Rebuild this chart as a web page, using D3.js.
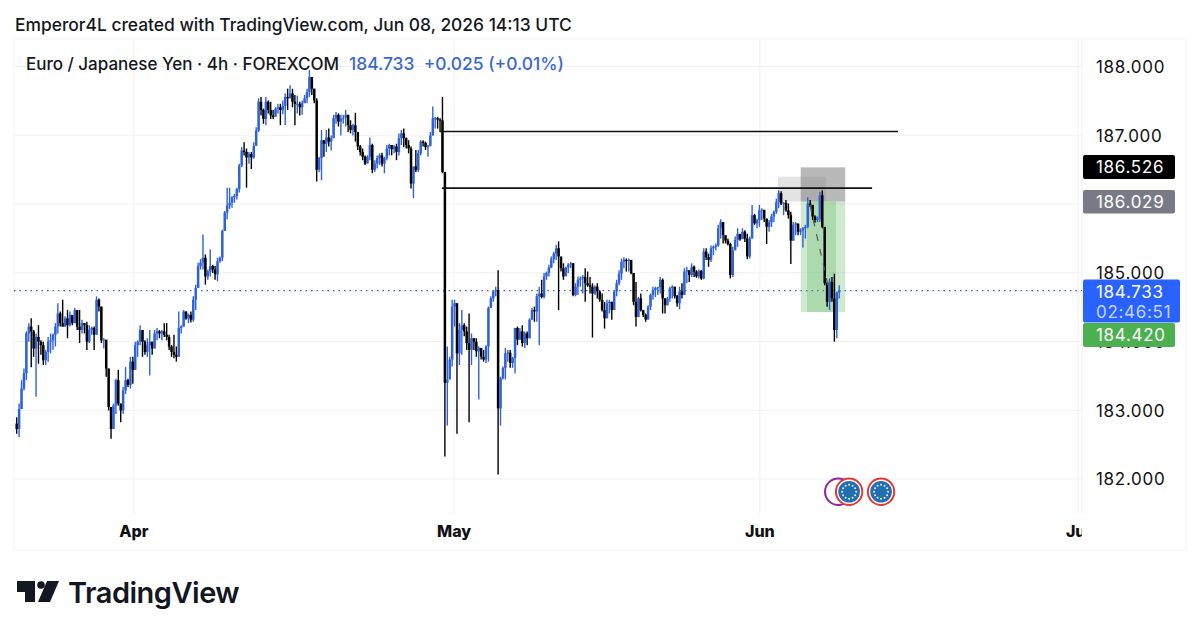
<!DOCTYPE html>
<html>
<head>
<meta charset="utf-8">
<title>EUR/JPY 4h</title>
<script src="https://cdn.jsdelivr.net/npm/d3@7/dist/d3.min.js"></script>
<style>
html,body{margin:0;padding:0;background:#fff;}
svg{display:block;}
text{font-family:Inter,"Noto Sans",sans-serif;}
</style>
</head>
<body>
<svg id="chart" width="1200" height="634"></svg>
<script>
// Four-hour candles; each bar opens at the previous close.
const firstOpen = 182.80;
const highs = [
182.89,183.09,183.43,183.60,184.14,184.26,184.33,184.16,184.11,184.23,
184.01,183.99,183.87,184.06,184.11,184.11,184.26,184.55,184.43,184.60,
184.36,184.45,184.43,184.36,184.48,184.45,184.45,184.31,184.26,184.28,
184.23,184.21,184.21,184.65,184.62,184.50,184.04,184.01,183.60,183.04,
183.09,183.45,183.58,183.09,183.33,183.62,183.45,183.77,183.77,183.99,
184.01,184.23,184.16,184.01,184.04,184.16,183.99,184.16,184.19,184.16,
184.16,184.26,184.26,184.09,183.94,184.09,183.92,184.43,184.23,184.45,
184.43,184.40,184.43,184.65,184.82,185.14,185.19,185.55,185.26,185.04,
185.33,185.11,185.09,185.21,185.23,185.62,185.89,186.23,186.23,186.11,
186.14,186.23,186.58,186.82,186.89,186.80,186.75,186.75,186.89,187.11,
187.53,187.55,187.38,187.55,187.50,187.48,187.36,187.40,187.45,187.45,
187.50,187.60,187.67,187.72,187.67,187.58,187.57,187.48,187.50,187.58,187.67,
187.94,187.84,187.67,187.53,186.68,187.07,186.92,187.07,187.09,186.99,
187.29,187.33,187.31,187.29,187.29,187.36,187.29,187.21,187.16,
187.32,187.04,186.85,186.80,186.70,186.70,186.96,186.87,186.63,186.70,
186.73,186.74,186.68,186.85,186.87,186.82,186.85,186.87,187.02,187.07,
187.09,186.96,186.92,186.83,186.46,186.78,186.78,186.92,186.92,186.90,
186.85,187.04,187.41,187.26,187.26,187.24,187.55,186.46,183.92,183.77,
184.60,184.60,184.45,184.26,184.45,184.26,184.21,184.40,184.11,184.04,
184.04,183.92,183.90,183.87,183.94,184.50,184.65,184.74,184.79,185.03,
183.48,183.63,183.90,183.87,183.87,183.77,184.19,184.21,184.19,184.23,
184.14,184.14,184.33,184.48,184.50,184.69,184.79,184.89,184.99,185.01,
185.11,185.23,185.30,185.40,185.45,185.18,185.13,185.08,185.13,185.15,
185.13,184.84,184.94,184.94,184.96,185.06,185.01,184.93,184.84,184.81,
184.84,184.74,184.69,184.57,184.60,184.60,184.57,184.74,184.89,185.03,
185.20,185.22,185.20,185.20,185.18,184.98,184.86,184.64,184.69,184.43,
184.40,184.52,184.69,184.79,184.79,184.79,184.93,184.91,184.62,184.64,
184.79,184.81,184.79,184.67,184.79,184.84,185.06,185.08,184.98,185.13,
185.10,185.03,185.04,185.03,185.35,185.35,185.27,185.39,185.39,185.42,
185.69,185.77,185.73,185.52,185.49,185.43,185.37,185.52,185.64,185.54,
185.64,185.61,185.56,185.52,185.98,185.85,185.78,185.98,185.93,185.90,
185.78,185.76,185.85,185.90,186.07,186.19,186.18,186.02,186.05,186.00,
185.88,185.73,185.73,185.69,185.64,185.66,185.69,186.09,186.05,185.98,
185.83,185.81,186.17,186.19,185.66,184.86,184.91,184.93,184.98,184.72,
184.81];
const lows = [
182.65,182.60,183.01,183.28,183.43,183.99,183.62,183.77,183.19,183.67,
183.80,183.65,183.65,183.70,183.82,183.87,183.92,184.11,184.21,184.21,
184.21,184.04,184.21,184.23,184.26,184.16,183.97,184.11,184.11,183.87,
183.97,184.09,183.87,184.09,184.43,183.97,183.89,183.48,182.99,182.58,
182.72,182.94,183.06,182.82,182.94,183.23,183.33,183.31,183.38,183.58,
183.77,183.94,183.77,183.80,183.77,183.50,183.80,183.92,184.01,184.04,
184.01,184.06,184.01,183.87,183.77,183.75,183.70,183.87,184.11,184.21,
184.31,184.26,184.27,184.28,184.45,184.80,185.04,185.04,184.82,184.89,
184.94,184.99,184.89,184.87,185.14,185.16,185.60,185.77,185.92,185.94,
186.01,186.06,186.16,186.53,186.70,186.23,186.58,186.50,186.65,186.84,
187.04,187.28,187.16,187.14,187.31,187.23,187.23,187.28,187.31,187.14,
187.30,187.14,187.36,187.53,187.40,187.14,187.31,187.28,187.29,187.46,187.46,
187.55,187.58,187.46,186.32,186.46,186.34,186.68,186.75,186.83,186.77,
186.95,187.16,187.12,186.99,187.16,187.12,187.04,187.02,186.99,
186.90,186.78,186.70,186.63,186.56,186.61,186.63,186.44,186.46,186.51,
186.56,186.54,186.44,186.63,186.70,186.70,186.73,186.63,186.70,186.85,
186.82,186.80,186.73,186.22,186.08,186.46,186.46,186.70,186.83,186.78,
186.68,186.83,186.99,187.09,187.09,187.04,186.44,182.32,182.77,183.61,
183.63,184.21,182.65,183.65,183.80,184.07,183.87,182.82,183.65,183.87,
183.77,183.15,183.73,183.70,183.68,183.70,184.48,184.57,184.65,182.06,
182.77,183.44,183.44,183.70,183.61,183.61,183.53,183.94,184.02,183.92,
183.90,183.94,184.04,184.31,184.28,184.28,183.94,184.62,184.62,184.89,
184.94,185.06,185.13,185.18,184.45,185.01,184.89,185.01,184.99,185.06,
184.65,184.65,184.67,184.79,184.69,184.57,184.79,184.69,184.05,184.67,
184.62,184.57,184.43,184.18,184.33,184.40,184.31,184.52,184.65,184.81,
184.89,185.06,185.01,185.01,184.97,184.52,184.21,184.35,184.43,184.35,
184.28,184.33,184.45,184.60,184.64,184.67,184.69,184.40,184.40,184.52,
184.57,184.62,184.62,184.50,184.46,184.62,184.74,184.84,184.86,184.93,
184.93,184.92,184.91,184.89,184.90,185.18,185.08,185.15,185.25,185.32,
185.37,185.49,185.42,185.42,185.39,184.91,184.93,185.32,185.37,185.46,
185.49,185.44,185.19,185.20,185.49,185.69,185.64,185.66,185.76,185.73,
185.41,185.59,185.66,185.73,185.85,185.93,185.98,185.83,185.88,185.78,
185.12,185.46,185.54,185.54,185.54,185.36,185.49,185.64,185.95,185.76,
185.72,185.73,185.73,185.64,184.81,184.50,184.45,184.57,183.99,184.04,
184.62];
const closes = [
182.72,183.01,183.31,183.53,184.11,184.21,184.14,183.89,184.06,183.99,
183.94,183.72,183.84,183.99,184.01,184.09,184.21,184.40,184.26,184.21,
184.33,184.23,184.38,184.26,184.45,184.21,184.16,184.26,184.23,183.99,
184.16,184.19,184.09,184.60,184.50,184.01,184.02,183.60,183.04,182.72,
183.06,183.43,183.09,182.99,183.28,183.43,183.36,183.70,183.58,183.94,
183.99,184.16,183.99,183.84,183.94,183.99,183.89,184.11,184.14,184.11,
184.14,184.09,184.06,183.92,183.84,183.80,183.77,184.19,184.21,184.43,
184.33,184.38,184.31,184.60,184.77,185.09,185.14,185.21,184.94,185.01,
185.09,185.04,184.97,185.16,185.21,185.60,185.87,185.97,186.01,186.09,
186.11,186.21,186.55,186.77,186.75,186.67,186.72,186.67,186.84,187.06,
187.48,187.36,187.23,187.48,187.36,187.28,187.26,187.38,187.40,187.36,
187.42,187.55,187.53,187.60,187.48,187.45,187.45,187.40,187.46,187.53,187.62,
187.84,187.67,187.50,186.49,186.66,186.92,186.87,186.96,186.90,186.95,
187.24,187.29,187.19,187.24,187.25,187.29,187.14,187.07,187.14,
187.04,186.83,186.75,186.68,186.58,186.68,186.85,186.49,186.58,186.66,
186.70,186.58,186.66,186.80,186.85,186.79,186.83,186.75,186.95,187.02,
186.95,186.85,186.80,186.29,186.54,186.49,186.73,186.90,186.88,186.82,
186.84,186.99,187.24,187.24,187.22,187.21,186.46,183.39,183.44,183.73,
184.50,184.55,183.82,184.16,184.23,184.14,183.97,183.87,184.04,183.99,
183.85,183.90,183.77,183.73,183.92,184.48,184.62,184.72,184.74,183.02,
183.46,183.61,183.82,183.83,183.68,183.75,184.19,184.02,184.14,183.97,
184.11,184.04,184.31,184.45,184.43,184.65,184.69,184.64,184.94,184.99,
185.07,185.19,185.27,185.35,185.23,185.06,184.94,185.07,185.11,185.13,
184.67,184.79,184.89,184.91,184.93,184.84,184.81,184.79,184.69,184.79,
184.72,184.60,184.45,184.33,184.55,184.57,184.45,184.72,184.84,184.98,
185.15,185.18,185.17,185.18,184.99,184.57,184.35,184.62,184.45,184.38,
184.31,184.50,184.67,184.74,184.77,184.78,184.89,184.62,184.52,184.62,
184.77,184.79,184.65,184.55,184.72,184.67,185.01,185.03,184.96,185.08,
185.01,184.94,185.02,184.91,185.30,185.22,185.18,185.35,185.37,185.39,
185.64,185.73,185.54,185.46,185.41,184.96,185.32,185.47,185.56,185.48,
185.59,185.49,185.23,185.49,185.83,185.71,185.76,185.90,185.91,185.78,
185.66,185.73,185.81,185.88,186.02,186.15,186.00,186.01,185.90,185.83,
185.46,185.69,185.71,185.59,185.61,185.64,185.66,186.00,185.98,185.81,
185.76,185.78,186.12,185.66,184.84,184.57,184.86,184.62,184.16,184.708,
184.733];

// Axis ticks
const priceTicks = [188, 187, 186, 185, 184, 183, 182];
const monthLabels = ["Apr", "May", "Jun", "Jul"];
const monthBars = [48.2, 180.6, 307, 438.5];

// Drawn levels and position zones, in (bar, price) terms
const levelPrices = [187.047, 186.225];
const levelFrom = [175, 175.8];
const levelTo = [364.3, 353.6];
const lastPrice = 184.733;
const targetPrice = 186.526;
const entryPrice = 186.029;
const stopPrice = 184.420;
const shadeBars = [[314.7, 334.5, 186.39], [324.1, 342.5, targetPrice]];
const profitBars = [[324.1, 338.7], [326.7, 342.5]];
const pathBars = [327.9, 335.8];
const pathPrices = [185.98, 184.74];
const eventBars = [[339.6, "#8e24aa", false], [344.1, "#e53935", true], [357.3, "#e53935", true]];
const eventPrice = 181.8;

const upColor = "#2f62d9", downColor = "#000";
const plot = {left: 14, right: 1082, top: 39, bottom: 514, outerRight: 1186, outerBottom: 550};

const x = d3.scaleLinear().domain([0, 439]).range([16.7, 1078.7]);
const y = d3.scaleLinear().domain([182, 188]).range([478.5, 66]);

const bars = closes.map((c, i) => ({
  i, c, h: highs[i], l: lows[i], o: i ? closes[i - 1] : firstOpen
}));

const svg = d3.select("#chart");
const defs = svg.append("defs");
defs.append("clipPath").attr("id", "pane").append("rect")
  .attr("x", plot.left).attr("y", plot.top)
  .attr("width", plot.right - plot.left).attr("height", plot.outerBottom - plot.top);

// Panel frame
const frame = d3.path();
frame.rect(plot.left, plot.top, plot.outerRight - plot.left, plot.outerBottom - plot.top);
svg.append("path").attr("d", frame).attr("fill", "none").attr("stroke", "#f3f3f5");
svg.append("line").attr("x1", plot.right).attr("x2", plot.right)
  .attr("y1", plot.top).attr("y2", plot.bottom).attr("stroke", "#f1f1f4");

// Gridlines
const gridY = svg.append("g").attr("transform", `translate(${plot.left},0)`)
  .call(d3.axisRight(y).tickValues(priceTicks).tickSize(plot.right - plot.left).tickFormat(""));
const gridX = svg.append("g").attr("transform", `translate(0,${plot.top})`)
  .call(d3.axisBottom(x).tickValues(monthBars).tickSize(plot.bottom - plot.top).tickFormat(""));
[gridY, gridX].forEach(g => {
  g.select(".domain").remove();
  g.selectAll("line").attr("stroke", "#f1f1f4");
});

const pane = svg.append("g").attr("clip-path", "url(#pane)");

// Last-price dotted line
pane.append("line").attr("x1", plot.left).attr("x2", plot.right)
  .attr("y1", y(lastPrice)).attr("y2", y(lastPrice))
  .attr("stroke", "#3a5fc8").attr("stroke-width", 1.1).attr("stroke-dasharray", "1.5 4");

// Position zones
pane.selectAll("rect.profit").data(profitBars).join("rect").attr("class", "profit")
  .attr("x", d => x(d[0])).attr("width", d => x(d[1]) - x(d[0]))
  .attr("y", y(entryPrice)).attr("height", y(stopPrice) - y(entryPrice))
  .attr("fill", "#4caf50").attr("fill-opacity", 0.27);
pane.selectAll("rect.shade").data(shadeBars).join("rect").attr("class", "shade")
  .attr("x", d => x(d[0])).attr("width", d => x(d[1]) - x(d[0]))
  .attr("y", d => y(d[2])).attr("height", d => y(entryPrice) - y(d[2]))
  .attr("fill", (d, i) => i ? "#787878" : "#999").attr("fill-opacity", (d, i) => i ? 0.52 : 0.28);

// Candles: wicks, then bodies
pane.selectAll("line.wick").data(bars).join("line").attr("class", "wick")
  .attr("x1", d => x(d.i)).attr("x2", d => x(d.i))
  .attr("y1", d => y(d.h)).attr("y2", d => y(d.l))
  .attr("stroke", d => d.c >= d.o ? upColor : downColor).attr("stroke-width", 1.4);
pane.selectAll("rect.body").data(bars).join("rect").attr("class", "body")
  .attr("x", d => x(d.i) - 1.25).attr("width", 2.5)
  .attr("y", d => y(Math.max(d.o, d.c)))
  .attr("height", d => Math.max(1, Math.abs(y(d.o) - y(d.c))))
  .attr("fill", d => d.c >= d.o ? upColor : downColor);

// Projected path
pane.append("line")
  .attr("x1", x(pathBars[0])).attr("y1", y(pathPrices[0]))
  .attr("x2", x(pathBars[1])).attr("y2", y(pathPrices[1]))
  .attr("stroke", "#555").attr("stroke-width", 1.2).attr("stroke-dasharray", "7 8");

// Horizontal levels
pane.selectAll("line.level").data(levelPrices).join("line").attr("class", "level")
  .attr("x1", (d, i) => x(levelFrom[i])).attr("x2", (d, i) => x(levelTo[i]))
  .attr("y1", d => y(d)).attr("y2", d => y(d))
  .attr("stroke", "#111").attr("stroke-width", 1.7);

// Economic-event badges
const badges = pane.selectAll("g.badge").data(eventBars).join("g").attr("class", "badge")
  .attr("transform", d => `translate(${x(d[0])},${y(eventPrice) - 0.5})`);
badges.append("circle").attr("r", 13.2).attr("fill", "#fff")
  .attr("stroke", d => d[1]).attr("stroke-width", 2);
badges.filter(d => d[2]).append("circle").attr("r", 10.8).attr("fill", "#1f6fb5");
badges.filter(d => d[2]).selectAll("circle.star").data(d3.range(12)).join("circle").attr("class", "star")
  .attr("r", 1).attr("fill", "#f4efc4")
  .attr("cx", k => 7 * Math.cos(k * Math.PI / 6))
  .attr("cy", k => 7 * Math.sin(k * Math.PI / 6));

// Price axis
const priceAxis = svg.append("g").attr("transform", `translate(${plot.right},1)`)
  .call(d3.axisRight(y).tickValues(priceTicks).tickSize(0).tickPadding(14).tickFormat(d3.format(".3f")));
priceAxis.select(".domain").remove();
priceAxis.selectAll("text").style("font-family", "Inter").style("font-size", "17px")
  .attr("fill", "#111").attr("letter-spacing", "0.7");

// Price tags on the scale
const tagRows = [
  {text: [targetPrice.toFixed(3)], top: 155, h: 24, w: 92, fill: "#000", color: "#fff"},
  {text: [entryPrice.toFixed(3)], top: 190, h: 23.5, w: 92, fill: "#787b86", color: "#fff"},
  {text: [lastPrice.toFixed(3), "02:46:51"], top: 279.5, h: 43, w: 97, fill: "#2962ff", color: "#fff"},
  {text: [stopPrice.toFixed(3)], top: 323, h: 24, w: 92, fill: "#4caf50", color: "#fff"}
];
const tags = svg.selectAll("g.tag").data(tagRows).join("g").attr("class", "tag");
tags.append("rect").attr("x", plot.right + 1).attr("y", d => d.top)
  .attr("width", d => d.w).attr("height", d => d.h).attr("rx", 2).attr("fill", d => d.fill);
tags.each(function (d) {
  d3.select(this).selectAll("text").data(d.text).join("text")
    .attr("x", plot.right + 14)
    .attr("y", (t, k) => d.top + 18 + k * 20)
    .attr("fill", (t, k) => k ? "#c6d4ff" : d.color)
    .attr("font-size", 17).attr("letter-spacing", 0.7)
    .text(t => t);
});

// Time axis, cut off where the price scale begins
defs.append("clipPath").attr("id", "timeClip").append("rect")
  .attr("x", plot.left).attr("y", plot.bottom)
  .attr("width", plot.right - plot.left).attr("height", plot.outerBottom - plot.bottom);
const timeAxis = svg.append("g").attr("clip-path", "url(#timeClip)")
  .append("g").attr("transform", `translate(0,${plot.bottom})`)
  .call(d3.axisBottom(x).tickValues(monthBars).tickSize(0).tickPadding(12)
    .tickFormat((d, i) => monthLabels[i]));
timeAxis.select(".domain").remove();
timeAxis.selectAll("text").style("font-family", "Inter").style("font-size", "16px")
  .style("font-weight", 800).attr("fill", "#111");

// Header and legend
svg.append("text").attr("x", 15).attr("y", 31).attr("font-size", 17.4).attr("font-weight", 500)
  .attr("fill", "#131722").text("Emperor4L created with TradingView.com, Jun 08, 2026 14:13 UTC");
svg.append("text").attr("x", 26).attr("y", 70).attr("font-size", 17).attr("font-weight", 500)
  .attr("fill", "#131722").text("Euro / Japanese Yen · 4h · FOREXCOM");
svg.append("text").attr("x", 349).attr("y", 70).attr("font-size", 17.4).attr("font-weight", 500)
  .attr("fill", "#3b69cf").attr("xml:space", "preserve").text("184.733  +0.025 (+0.01%)");

// Brand mark and wordmark
const logo = svg.append("g").attr("fill", "#131722");
logo.append("path").attr("d", "M17 581H35V602H25V592H17Z");
logo.append("circle").attr("cx", 41).attr("cy", 585).attr("r", 3.8);
logo.append("path").attr("d", "M47 581H59L50 602H38Z");
logo.append("text").attr("x", 68).attr("y", 603).attr("font-size", 29).attr("font-weight", 600)
  .attr("letter-spacing", -0.5).text("TradingView");
</script>
</body>
</html>
